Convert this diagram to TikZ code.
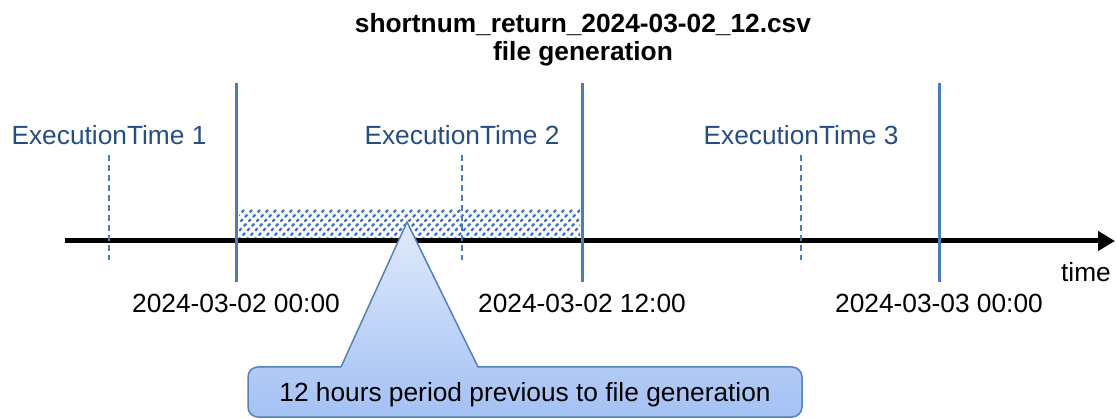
\documentclass[tikz,border=0pt]{standalone}
\usepackage{fontspec}
\setmainfont{Liberation Sans}
\usetikzlibrary{arrows.meta}
\definecolor{lineblue}{RGB}{74,126,187}
\definecolor{hatchblue}{RGB}{68,114,196}
\definecolor{exblue}{RGB}{37,77,134}
\definecolor{calltop}{RGB}{224,234,251}
\definecolor{callbot}{RGB}{163,193,244}
\definecolor{callborder}{RGB}{84,128,190}
\tikzset{
  lbl/.style={font=\fontsize{26.3}{30}\selectfont, inner sep=0pt, anchor=base},
  exlbl/.style={lbl, text=exblue},
  datelbl/.style={lbl, text=black},
  titlelbl/.style={lbl, font=\fontsize{26.3}{30}\selectfont\bfseries},
  markline/.style={lineblue, line width=3pt},
  execline/.style={lineblue, line width=1.5pt, dash pattern=on 6pt off 4pt},
  axisline/.style={black, line width=5pt, -{Triangle[length=17pt,width=19pt]}},
  hatch/.style={hatchblue, line width=2.2pt, dash pattern=on 3.5pt off 3pt},
}
\begin{document}
\begin{tikzpicture}[x=1pt,y=-1pt]
\useasboundingbox (0,0) rectangle (1116,419);
% title
\node[titlelbl] (title1) at (583,33) {shortnum\_return\_2024-03-02\_12.csv};
\node[titlelbl] (title2) at (583,61) {file generation};
% hatched period
\begin{scope}
  \clip (239,208) rectangle (580,239);
  \foreach \k in {190,198,...,600} {
    \draw[hatch] (\k,240) -- (\k+32,208);
  }
\end{scope}
% axis
\coordinate (axL) at (65,241);
\coordinate (axR) at (1115,241);
\draw[axisline] (axL) -- (axR);
\node[lbl] (time) at (1086,282) {time};
% execution time lines
\foreach \n/\x in {1/109,2/462,3/801} {
  \coordinate (e\n top) at (\x,155);
  \coordinate (e\n bot) at (\x,260);
  \draw[execline] (e\n top) -- (e\n bot);
  \node[exlbl] (ex\n) at (\x,145) {ExecutionTime \n};
}
% date marks
\foreach \n/\x/\d in {1/236/2024-03-02 00:00,2/582/2024-03-02 12:00,3/939/2024-03-03 00:00} {
  \coordinate (m\n top) at (\x,83);
  \coordinate (m\n bot) at (\x,282);
  \draw[markline] (m\n top) -- (m\n bot);
  \node[datelbl] (d\n) at (\x,313) {\d};
}
% callout
\coordinate (tip) at (407,222);
\path[draw=callborder, line width=1.5pt, top color=calltop, bottom color=callbot]
  (tip) -- (478,367) -- (490,367)
  [rounded corners=10pt] -- (802,367) -- (802,417) -- (248,417) -- (248,367) -- (330,367)
  [sharp corners] -- (341,367) -- cycle;
\node[lbl] (callout) at (525,401) {12 hours period previous to file generation};
\end{tikzpicture}
\end{document}
